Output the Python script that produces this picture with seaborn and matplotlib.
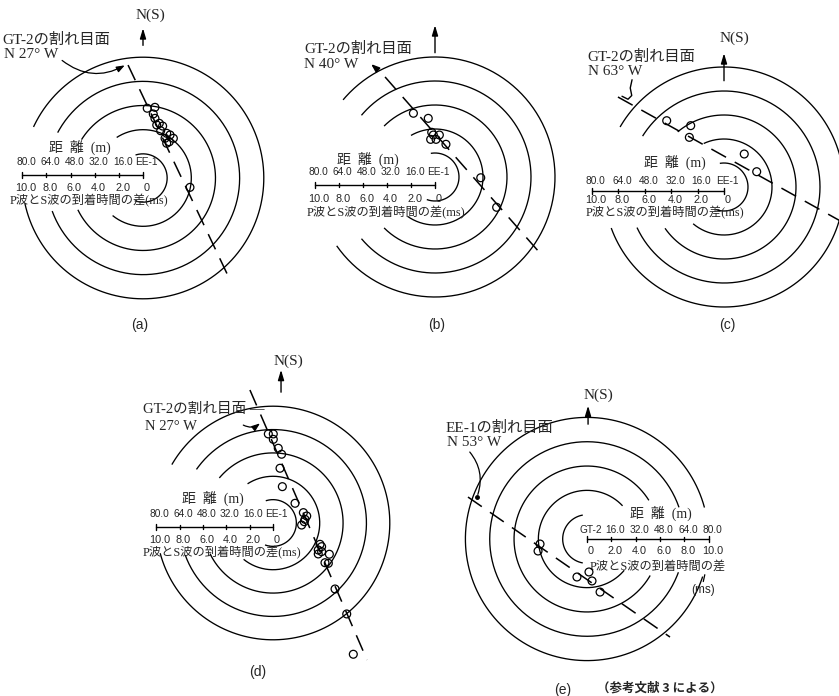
import numpy as np
import matplotlib
matplotlib.use("Agg")
import matplotlib.pyplot as plt
import seaborn as sns

sns.set_theme(style="white")
plt.rcParams["font.family"] = ["Liberation Serif", "Noto Sans CJK JP", "DejaVu Sans"]

W, H = 839, 696

# Ring radii around the observation well (m)
ring_radii = [16, 32, 48, 64, 80]
# Distance scale (m) and matching P-S arrival time difference (ms)
dist_ticks = [80.0, 64.0, 48.0, 32.0, 16.0]
time_ticks = ["10.0", "8.0", "6.0", "4.0", "2.0", "0"]
dist_labels = ["80.0", "64.0", "48.0", "32.0", "16.0"]

# Event locations, east (x) / north (y) offsets from the well in metres
a_x = [2.8, 7.9, 6.8, 7.9, 10.8, 9.1, 13.0, 11.7, 15.7, 17.9, 20.1, 14.6, 17.4, 15.7, 31.1]
a_y = [46.2, 46.8, 42.4, 39.5, 36.2, 35.1, 34.4, 31.3, 29.6, 28.5, 26.3, 26.3, 24.0, 23.0, -6.2]

b_x = [-14.4, -4.5, -2.2, -1.1, 2.9, -2.9, 0.7, 7.3, 30.5, 41.1]
b_y = [42.5, 39.1, 29.8, 28.0, 28.0, 25.1, 25.1, 21.8, -0.5, -20.2]

c_x = [-38.2, -22.2, -23.1, 13.5, 21.8]
c_y = [44.2, 40.9, 33.1, 22.0, 10.2]

d_x = [-3.2, 0.2, 0.2, 3.6, 5.9, 4.8, 6.4, 15.1, 20.8, 23.1, 21.9, 19.6, 21.4,
       32.2, 33.3, 31.0, 33.3, 31.0, 38.6, 35.6, 37.9, 42.5, 50.5, 55.0]
d_y = [61.0, 61.0, 57.3, 51.2, 47.1, 37.5, 24.9, 13.5, 7.1, 4.8, 2.5, -1.4, 0.9,
       -14.6, -16.2, -18.5, -19.6, -21.2, -21.4, -27.2, -27.6, -45.2, -62.3, -89.9]

e_x = [-30.9, -32.2, 1.3, -6.6, 3.3, 8.6]
e_y = [-3.3, -7.9, -21.7, -25.0, -27.6, -34.9]

# Fracture traces (end points, m)
a_frac = ([-9.9, 57.6], [74.8, -67.5])
b_frac = ([-33.3, 70.0], [66.7, -50.7])
c_frac = ([-70.7, 80.0], [60.0, -24.0])
d_frac = ([-15.8, 64.4], [91.1, -93.8])
e_frac = ([-78.3, 54.6], [27.6, -64.5])

fig = plt.figure(figsize=(W / 100, H / 100), dpi=100)
fig.patch.set_facecolor("white")

HALF = 125
LABEL_FS = 11.0


def make_axes(cx, cy, s):
    ax = fig.add_axes([(cx - HALF * s) / W, 1 - (cy + HALF * s) / H,
                       2 * HALF * s / W, 2 * HALF * s / H])
    ax.set_xlim(-HALF, HALF)
    ax.set_ylim(-HALF, HALF)
    ax.axis("off")
    ax.patch.set_alpha(0)
    return ax


def rings(ax, gaps):
    for r, (lo, hi) in zip(ring_radii, gaps):
        th = np.radians(np.linspace(hi, lo + 360, 300))
        ax.plot(r * np.cos(th), r * np.sin(th), color="black", lw=0.95,
                solid_capstyle="butt", clip_on=False)


def events(ax, xs, ys):
    sns.scatterplot(x=xs, y=ys, ax=ax, s=32, facecolor="none",
                    edgecolor="black", linewidth=0.9, zorder=5, clip_on=False)


def fracture(ax, pts):
    ax.plot(pts[0], pts[1], color="black", lw=1.1, linestyle=(0, (11, 6.5)),
            clip_on=False)


def north(ax, y0, y1, x=0, label=None, lx=0, ly=0):
    ax.annotate("", xy=(x, y1), xytext=(x, y0),
                arrowprops=dict(arrowstyle="-|>,head_length=0.5,head_width=0.15",
                                color="black", lw=1.0), annotation_clip=False)
    if label:
        ax.text(lx, ly, label, fontsize=11, ha="center", va="center")


def scale_bar(ax, yb, k, top_y, bot_y, head_y, cap_y, head_x, cap_x,
              well="EE-1", mirror=False):
    sgn = 1 if mirror else -1
    L = 80 * k
    ax.plot([0, sgn * L], [yb, yb], color="black", lw=1.0)
    vals = [0] + dist_ticks[::-1]
    for v in vals:
        x = sgn * v * k
        h = 2.2 if v in (0, 80.0) else 1.6
        ax.plot([x, x], [yb - h, yb + h], color="black", lw=1.0)
    tops = [well] + dist_labels[::-1]
    bots = time_ticks[::-1]
    for v, t, b in zip(vals, tops, bots):
        x = sgn * v * k + 2.5
        ax.text(x, top_y, t, fontsize=7.3, family="Liberation Sans",
                ha="center", va="center")
        ax.text(x, bot_y, b, fontsize=7.8, family="Liberation Sans",
                ha="center", va="center")
    ax.text(head_x, head_y, "距  離  (m)", fontsize=10, ha="center", va="center")
    ax.text(cap_x, cap_y, "P波とS波の到着時間の差" + ("" if mirror else "(ms)"),
            fontsize=8.8, ha="center", va="center")


# ---------- (a) ----------
ax = make_axes(143, 178, 1.51)
rings(ax, [(108, 250), (123, 231), (148, 206), (152, 200), (155, 192)])
fracture(ax, a_frac)
events(ax, a_x, a_y)
north(ax, 86, 101, 0, "N(S)", 5, 108)
scale_bar(ax, 2, 1.0, 10.6, -6.6, 20.5, -15.2, -42, -36)
ax.text(-93, 91.4, "GT-2の割れ目面", fontsize=LABEL_FS, ha="left", va="center")
ax.text(-92, 81.5, "N 27° W", fontsize=LABEL_FS, ha="left", va="center")
ax.annotate("", xy=(-10.5, 75.5), xytext=(-55, 79),
            arrowprops=dict(arrowstyle="-|>,head_length=0.4,head_width=0.15",
                            color="black", lw=0.9,
                            connectionstyle="arc3,rad=0.35"),
            annotation_clip=False)

# ---------- (b) ----------
ax = make_axes(435, 177, 1.5)
rings(ax, [(100, 250), (120, 235), (135, 225), (140, 220), (140, 215)])
fracture(ax, b_frac)
events(ax, b_x, b_y)
north(ax, 81, 103)
scale_bar(ax, -5.3, 1.0, 3.3, -14.7, 11.8, -24, -44.7, -33)
ax.text(-87, 85.3, "GT-2の割れ目面", fontsize=LABEL_FS, ha="left", va="center")
ax.text(-87, 75.3, "N 40° W", fontsize=LABEL_FS, ha="left", va="center")
ax.annotate("", xy=(-44, 76.5), xytext=(-38, 71.3),
            arrowprops=dict(arrowstyle="-|>,head_length=0.4,head_width=0.15",
                            color="black", lw=1.2), annotation_clip=False)

# ---------- (c) ----------
ax = make_axes(724, 187, 1.5)
rings(ax, [(100, 250), (115, 230), (130, 215), (148, 205), (150, 200)])
fracture(ax, c_frac)
events(ax, c_x, c_y)
north(ax, 69, 91, 0, "N(S)", 7, 99)
scale_bar(ax, -2.7, 1.1, 4, -8.7, 16.5, -17.3, -32.7, -39.3)
ax.text(-91, 86.7, "GT-2の割れ目面", fontsize=LABEL_FS, ha="left", va="center")
ax.text(-91, 76.7, "N 63° W", fontsize=LABEL_FS, ha="left", va="center")
ax.plot([-61.3, -62.5, -61.5, -64, -68], [71.5, 66, 61, 58.5, 60.5],
        color="black", lw=1.0, clip_on=False)

# ---------- (d) ----------
ax = make_axes(273, 523, 1.46)
rings(ax, [(108, 250), (123, 231), (140, 206), (145, 200), (150, 195)])
fracture(ax, d_frac)
events(ax, d_x, d_y)
north(ax, 87.7, 106.8, 5.5, "N(S)", 10.3, 111)
scale_bar(ax, -2.7, 1.0, 6.3, -11.6, 16.5, -20.5, -41, -35)
ax.text(-89, 77.5, "GT-2の割れ目面 —", fontsize=10.5, ha="left", va="center")
ax.text(-88, 66.4, "N 27° W", fontsize=10.5, ha="left", va="center")
ax.annotate("", xy=(-7.5, 69.5), xytext=(-22, 68),
            arrowprops=dict(arrowstyle="-|>,head_length=0.4,head_width=0.15",
                            color="black", lw=0.9,
                            connectionstyle="arc3,rad=0.4"),
            annotation_clip=False)

# ---------- (e) ----------
ax = make_axes(587, 539, 1.52)
rings(ax, [(-100, 100), (-40, 43), (-30, 32), (-20, 19), (-18, 15)])
fracture(ax, e_frac)
events(ax, e_x, e_y)
north(ax, 73.7, 89.5, 0.7, "N(S)", 7.2, 94.7)
scale_bar(ax, 0, 1.0, 6, -7.9, 17, -18.4, 48.7, 46.7, well="GT-2", mirror=True)
ax.text(76.3, -33.6, "(ms)", fontsize=8.5, family="Liberation Sans",
        ha="center", va="center")
ax.plot([77.5, 76.5], [-23.5, -28], color="black", lw=0.9)
ax.text(-93.4, 73, "EE-1の割れ目面", fontsize=LABEL_FS, ha="left", va="center")
ax.text(-92, 63.2, "N 53° W", fontsize=LABEL_FS, ha="left", va="center")
ax.annotate("", xy=(-72.4, 27.6), xytext=(-78.3, 58.6),
            arrowprops=dict(arrowstyle="-", color="black", lw=0.9,
                            connectionstyle="arc3,rad=-0.3"),
            annotation_clip=False)
ax.plot([-72.4], [27.6], marker="o", ms=2.5, color="black")

# Panel captions
for lab, px, py in [("(a)", 140, 325), ("(b)", 437, 325), ("(c)", 727, 325),
                    ("(d)", 258, 672), ("(e)", 563, 690)]:
    fig.text(px / W, 1 - py / H, lab, fontsize=10, family="Liberation Sans",
             ha="center", va="center")
fig.text(660 / W, 1 - 688 / H, "（参考文献 3 による）", fontsize=9,
         family=["Noto Sans CJK JP"], fontweight="bold",
         ha="center", va="center")

fig.savefig("out.png", dpi=100, facecolor="white")
